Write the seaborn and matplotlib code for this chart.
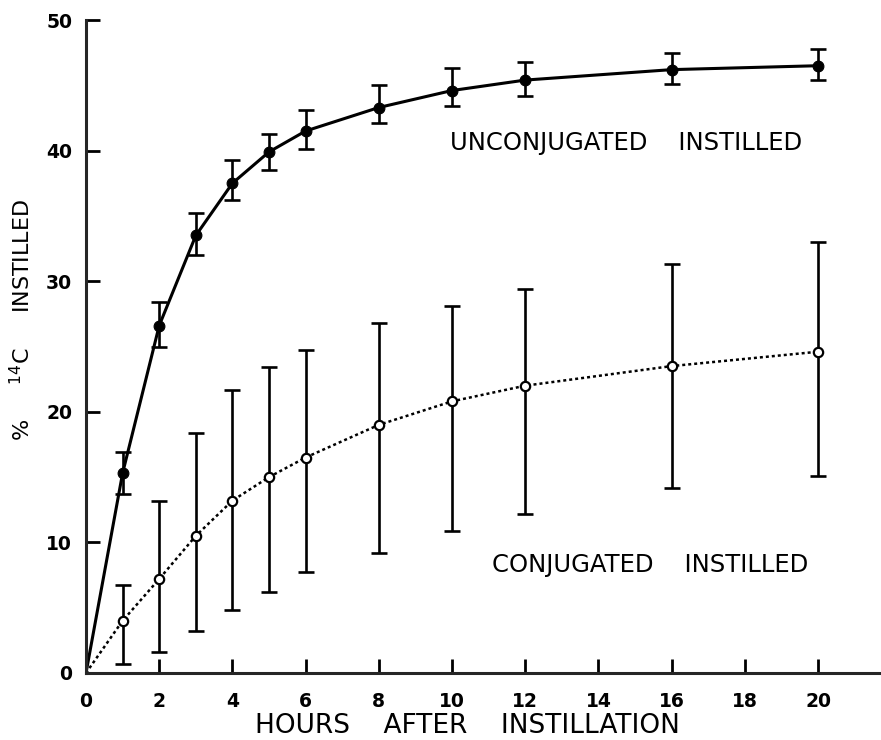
import matplotlib
matplotlib.use('Agg')
import numpy as np
import pandas as pd
import matplotlib.pyplot as plt
import seaborn as sns

# godziny po podaniu
hours = [0, 1, 2, 3, 4, 5, 6, 8, 10, 12, 16, 20]

# UNCONJUGATED INSTILLED (pelne kolka, linia ciagla)
unconj_mean = [0, 15.3, 26.6, 33.5, 37.5, 39.9, 41.5, 43.3, 44.6, 45.4, 46.2, 46.5]
unconj_low = [None, 13.7, 25.0, 32.0, 36.2, 38.5, 40.1, 42.1, 43.4, 44.2, 45.1, 45.4]
unconj_high = [None, 16.9, 28.4, 35.2, 39.3, 41.3, 43.1, 45.0, 46.3, 46.8, 47.5, 47.8]

# CONJUGATED INSTILLED (puste kolka, linia kropkowana)
conj_mean = [0, 4.0, 7.2, 10.5, 13.2, 15.0, 16.5, 19.0, 20.8, 22.0, 23.5, 24.6]
conj_low = [None, 0.7, 1.6, 3.2, 4.8, 6.2, 7.7, 9.2, 10.9, 12.2, 14.2, 15.1]
conj_high = [None, 6.7, 13.2, 18.4, 21.7, 23.4, 24.7, 26.8, 28.1, 29.4, 31.3, 33.0]

x_ticks = list(range(0, 21, 2))
y_ticks = [0, 10, 20, 30, 40, 50]

sns.set_style('ticks')
plt.rcParams['font.family'] = ['DejaVu Sans']
plt.rcParams['mathtext.default'] = 'regular'
plt.rcParams['text.color'] = 'black'
plt.rcParams['axes.labelcolor'] = 'black'
plt.rcParams['xtick.color'] = 'black'
plt.rcParams['ytick.color'] = 'black'

df = pd.DataFrame({'hours': hours, 'unconj': unconj_mean, 'conj': conj_mean})
pts = df[df['hours'] > 0]

fig = plt.figure(figsize=(8.81, 7.40), dpi=100)
ax = fig.add_axes([86 / 881, 67 / 740, 1 - 86 / 881, 653 / 740])

# linie
sns.lineplot(data=df, x='hours', y='unconj', color='black', linewidth=2.2, ax=ax)
sns.lineplot(data=df, x='hours', y='conj', color='black', linewidth=1.8,
             linestyle=(0, (1.2, 1.2)), ax=ax)

# slupki bledow
for mean, low, high in [(unconj_mean, unconj_low, unconj_high),
                        (conj_mean, conj_low, conj_high)]:
    m = np.array(mean[1:], dtype=float)
    lo = np.array(low[1:], dtype=float)
    hi = np.array(high[1:], dtype=float)
    ax.errorbar(hours[1:], m, yerr=[m - lo, hi - m], fmt='none', ecolor='black',
                elinewidth=1.9, capsize=5.5, capthick=1.9, zorder=3)

# punkty
sns.scatterplot(data=pts, x='hours', y='unconj', color='black', s=60,
                edgecolor='black', linewidth=0.8, zorder=5, ax=ax)
sns.scatterplot(data=pts, x='hours', y='conj', color='white', s=45,
                edgecolor='black', linewidth=1.6, zorder=5, ax=ax)

ax.text(9.95, 40.6, 'UNCONJUGATED    INSTILLED', fontsize=17.5, ha='left', va='center')
ax.text(11.1, 8.3, 'CONJUGATED    INSTILLED', fontsize=17.5, ha='left', va='center')

ax.set_xlim(0, 21.72)
ax.set_ylim(0, 50)
ax.set_xticks(x_ticks)
ax.set_yticks(y_ticks)
ax.tick_params(direction='in', length=10, width=2, labelsize=13.5)
ax.tick_params(axis='x', pad=14)
ax.tick_params(axis='y', pad=10)
for lab in ax.get_xticklabels() + ax.get_yticklabels():
    lab.set_fontweight('bold')

for s in ['top', 'right']:
    ax.spines[s].set_visible(False)
for s in ['left', 'bottom']:
    ax.spines[s].set_linewidth(2.2)

ax.set_xlabel('HOURS    AFTER    INSTILLATION', fontsize=19)
ax.set_ylabel(r'%     $^{14}$C     INSTILLED', fontsize=16)
ax.xaxis.label.set_va('bottom')
ax.xaxis.set_label_coords((467 - 86) / 795, -(739 - 673) / 653)
ax.yaxis.set_label_coords(-52 / 795, (673 - 320) / 653)

fig.savefig('out.png', dpi=100)
